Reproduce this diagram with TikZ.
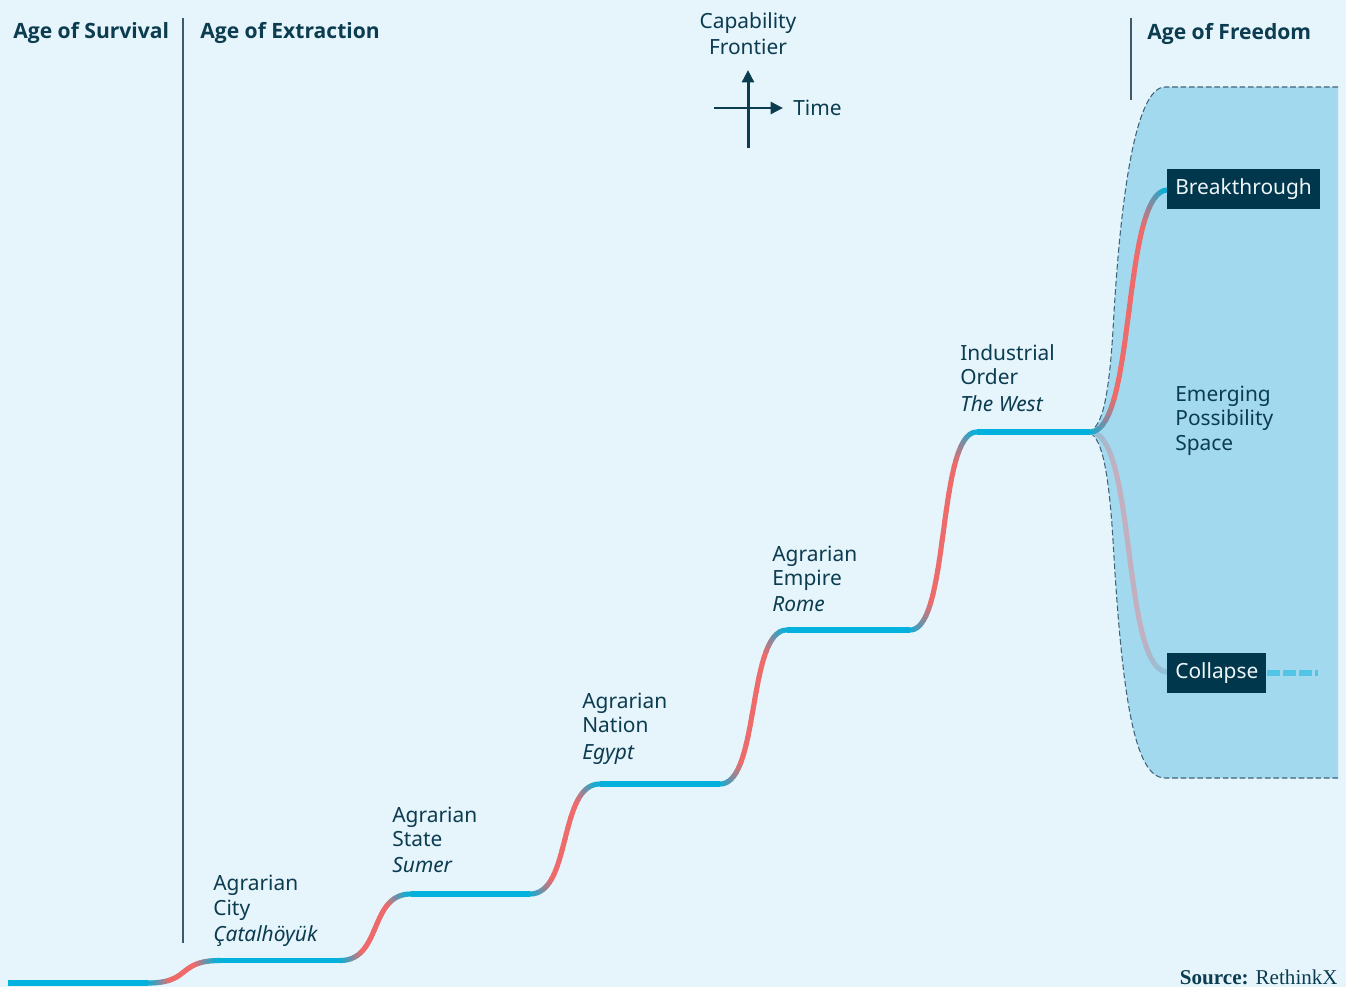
\documentclass[tikz,border=0pt]{standalone}
\usepackage{fontspec}
\setmainfont{Noto Sans}
\newfontfamily\headfont{Open Sans}
\newfontfamily\sourcefont{Liberation Serif}
\usetikzlibrary{arrows.meta}

\definecolor{bgc}{HTML}{E6F4FB}
\definecolor{spacefill}{HTML}{A3D9EE}
\definecolor{spaceline}{HTML}{3F6478}
\definecolor{navy}{HTML}{0B3C50}
\definecolor{boxfill}{HTML}{00374C}
\definecolor{boxtext}{HTML}{EEF5F8}
\definecolor{lineblue}{HTML}{00B2DD}
\definecolor{linered}{HTML}{EE6B6B}
\definecolor{lowmid}{HTML}{C2AFBF}
\definecolor{lowend}{HTML}{8EC3DA}
\definecolor{dividerc}{HTML}{3E5A6A}
\definecolor{dashblue}{HTML}{52C4E6}

% S-shaped riser between two plateaus: x0 y0 x1 y1, middle colour, end colour
\newcommand{\riser}[6]{%
  \foreach \k in {0,...,29}{%
    \pgfmathsetmacro{\ta}{\k/30}%
    \pgfmathsetmacro{\tb}{(\k+1)/30}%
    \pgfmathtruncatemacro{\mixpct}{100*min(1,min(\k+0.5,29.5-\k)/7.5)}%
    \draw[riserline, color=#5!\mixpct!#6] plot[variable=\t, domain=\ta:\tb, samples=3]
      ({(1-\t)^3*#1 + 3*(1-\t)^2*\t*(#1+0.6*(#3-#1)) + 3*(1-\t)*\t^2*(#3-0.6*(#3-#1)) + \t^3*#3},
       {#2 + (#4-#2)*(3*\t^2-2*\t^3)});
  }%
}

\tikzset{
  heading/.style={anchor=west, inner sep=0pt, text=navy,
    font=\headfont\bfseries\fontsize{12}{14}\selectfont},
  era/.style={anchor=west, inner sep=0pt, align=left, text=navy,
    font=\fontsize{11.9}{13.9}\selectfont},
  plateau/.style={line width=3.1pt, draw=lineblue},
  riserline/.style={line width=2.9pt, line cap=round},
  outcome/.style={anchor=west, fill=boxfill, text=boxtext, inner xsep=0.16cm,
    inner ysep=0pt, minimum height=0.8cm, font=\fontsize{11.9}{14}\selectfont},
  divider/.style={line width=1.1pt, draw=dividerc},
  compass/.style={line width=1.7pt, draw=navy,
    -{Triangle[length=0.25cm, width=0.24cm]}},
  spaceedge/.style={fill=spacefill, draw=spaceline, line width=0.6pt,
    dash pattern=on 3.2pt off 1.6pt},
  collapsedash/.style={line width=3.2pt, draw=dashblue,
    dash pattern=on 7.4pt off 1.8pt},
}

\begin{document}
\begin{tikzpicture}[x=0.02cm, y=-0.02cm]
  \useasboundingbox[fill=bgc] (0,0) rectangle (1346,987);

  % possibility space
  \draw[spaceedge] (1338,87) -- (1165,87)
    .. controls (1135,87) and (1120,200) .. (1113,330)
    .. controls (1108,410) and (1100,428) .. (1088,432)
    .. controls (1100,436) and (1108,460) .. (1113,540)
    .. controls (1122,700) and (1135,778) .. (1165,778) -- (1338,778);

  % era dividers
  \draw[divider] (183,18) -- (183,943);
  \draw[divider] (1131,18) -- (1131,100);

  \node[heading] (survival) at (13,33.3) {Age of Survival};
  \node[heading] (extraction) at (200,33.3) {Age of Extraction};
  \node[heading] (freedom) at (1147,34.3) {Age of Freedom};

  % axes key
  \coordinate (axbot) at (748,148);
  \coordinate (axtop) at (748,70);
  \coordinate (axleft) at (714,108);
  \coordinate (axright) at (783,108);
  \draw[compass] (axbot) -- (axtop);
  \draw[compass] (axleft) -- (axright);
  \node[era, anchor=center, align=center] (frontier) at (748,34)
    {Capability\\[1pt]Frontier};
  \node[era] (time) at (793,107.5) {Time};

  % plateaus
  \draw[plateau] (8,983) -- (148,983);
  \draw[plateau] (220,960.5) -- (340,960.5);
  \draw[plateau] (411,894) -- (530,894);
  \draw[plateau] (600,784) -- (720,784);
  \draw[plateau] (787,630) -- (910,630);

  % risers
  \riser{148}{983}{220}{960.5}{linered}{lineblue}
  \riser{340}{960.5}{411}{894}{linered}{lineblue}
  \riser{530}{894}{600}{784}{linered}{lineblue}
  \riser{720}{784}{787}{630}{linered}{lineblue}
  \riser{910}{630}{977}{432}{linered}{lineblue}

  % branches
  \riser{1090}{432}{1168}{672}{lowmid}{lowend}
  \riser{1090}{432}{1168}{190}{linered}{lineblue}
  \draw[plateau] (977,432) -- (1090,432);

  % labels
  \node[era] (city) at (213,911) {Agrarian\\City\\[1pt]\textit{Çatalhöyük}};
  \node[era] (state) at (392,840) {Agrarian\\State\\[1pt]\textit{Sumer}};
  \node[era] (nation) at (582,728.5) {Agrarian\\Nation\\[1pt]\textit{Egypt}};
  \node[era] (empire) at (772,579) {Agrarian\\Empire\\[1pt]\textit{Rome}};
  \node[era] (industrial) at (960,378) {Industrial\\Order\\[1pt]\textit{The West}};
  \node[era] (emerging) at (1175,420.5) {Emerging\\Possibility\\Space};

  % outcomes
  \node[outcome] (breakthrough) at (1167,189) {Breakthrough};
  \node[outcome] (collapse) at (1167,673) {Collapse};
  \coordinate (collend) at (1318,673);
  \draw[collapsedash] (collapse.east) -- (collend);

  \node[anchor=base east, inner sep=0pt, text=navy,
    font=\sourcefont\fontsize{12}{14}\selectfont] (source) at (1338,984.5)
    {\textbf{Source:} RethinkX};
\end{tikzpicture}
\end{document}
